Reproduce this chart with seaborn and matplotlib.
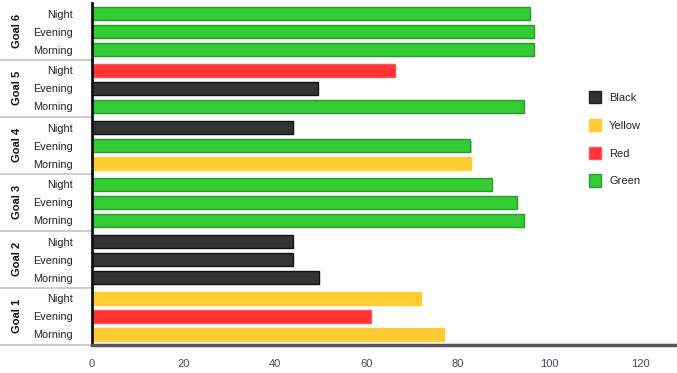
import matplotlib
matplotlib.use("Agg")
import matplotlib.pyplot as plt
import matplotlib.patheffects as pe
from matplotlib.patches import Patch
from matplotlib.lines import Line2D
import seaborn as sns
import pandas as pd

goals = ["Goal 1", "Goal 2", "Goal 3", "Goal 4", "Goal 5", "Goal 6"]
times = ["Morning", "Evening", "Night"]
# values per goal, in order Morning, Evening, Night
values = [
    [77, 61, 72],      # Goal 1
    [49.6, 44, 44],    # Goal 2
    [94.6, 92.9, 87.6],  # Goal 3
    [82.9, 82.8, 44],    # Goal 4
    [94.6, 49.5, 66.2],  # Goal 5
    [96.7, 96.7, 95.8],  # Goal 6
]
colors = [
    ["Yellow", "Red", "Yellow"],
    ["Black", "Black", "Black"],
    ["Green", "Green", "Green"],
    ["Yellow", "Green", "Black"],
    ["Green", "Black", "Red"],
    ["Green", "Green", "Green"],
]
legend_order = ["Black", "Yellow", "Red", "Green"]
palette = {"Black": "#333333", "Yellow": "#ffcc33", "Red": "#ff3333", "Green": "#33cc33"}
edges = {"Black": "#111111", "Yellow": "#ffcc33", "Red": "#ff5555", "Green": "#2a9a2a"}

# layout of rows (pixel-like units, bottom = 0)
GROUP_H = 57
OFFSETS = [10.5, 28.5, 46.5]

rows = []
for g, goal in enumerate(goals):
    for k, t in enumerate(times):
        rows.append({"goal": goal, "time": t, "value": values[g][k],
                     "color": colors[g][k], "pos": g * GROUP_H + OFFSETS[k]})
df = pd.DataFrame(rows)

sns.set_style("white")
plt.rcParams["font.family"] = ["Liberation Sans", "DejaVu Sans"]

fig = plt.figure(figsize=(6.77, 3.73), dpi=100)
W, H = 677, 373
ax = fig.add_axes([92 / W, (H - 345) / H, (W - 92) / W, 342 / H])

sns.barplot(data=df, x="value", y="pos", hue="color", hue_order=legend_order,
            palette=palette, saturation=1, orient="y", native_scale=True, dodge=False,
            width=0.7, legend=False, ax=ax)

# edge colours and a light drop shadow, matched by face colour
inv = {matplotlib.colors.to_hex(v): k for k, v in palette.items()}
for patch in ax.patches:
    name = inv.get(matplotlib.colors.to_hex(patch.get_facecolor()))
    if name is None:
        continue
    patch.set_edgecolor(edges[name])
    patch.set_linewidth(1.0)
    patch.set_path_effects([pe.SimplePatchShadow(offset=(0.8, -1.2), shadow_rgbFace="#999999", alpha=0.5),
                            pe.Normal()])

ax.set_xlim(0, 128)
ax.set_ylim(0, GROUP_H * len(goals))
ax.set_xticks([0, 20, 40, 60, 80, 100, 120])
ax.set_yticks(df["pos"])
ax.set_yticklabels(df["time"])
ax.tick_params(axis="both", length=0, labelsize=8, colors="#222222")
ax.tick_params(axis="y", pad=14, labelsize=7.8)
ax.tick_params(axis="x", pad=10, labelcolor="#444a55")
ax.set_xlabel("")
ax.set_ylabel("")

for s in ["top", "right"]:
    ax.spines[s].set_visible(False)
ax.spines["left"].set_color("#111111")
ax.spines["left"].set_linewidth(2)
ax.spines["bottom"].set_color("#555555")
ax.spines["bottom"].set_linewidth(2.5)

# group labels and separators in the left panel
trans = matplotlib.transforms.blended_transform_factory(fig.transFigure, ax.transData)
for g, goal in enumerate(goals):
    ax.text(17 / W, g * GROUP_H + GROUP_H / 2 + 1, goal, transform=trans, rotation=90,
            ha="center", va="center", fontsize=8, fontweight="bold", color="#111111")
    ax.add_line(Line2D([0, 92 / W], [g * GROUP_H, g * GROUP_H], transform=trans,
                       color="#c4c4c4", lw=1.2, clip_on=False))

handles = [Patch(facecolor=palette[c], edgecolor=edges[c] if c != "Black" else "#2a1a2a", label=c)
           for c in legend_order]
fig.legend(handles=handles, loc="upper left", bbox_to_anchor=(579 / W, 1 - 81 / H),
           frameon=False, fontsize=8, handlelength=1.1, handleheight=1.35,
           handletextpad=0.7, labelspacing=1.38)

fig.savefig("out.png", dpi=100)
